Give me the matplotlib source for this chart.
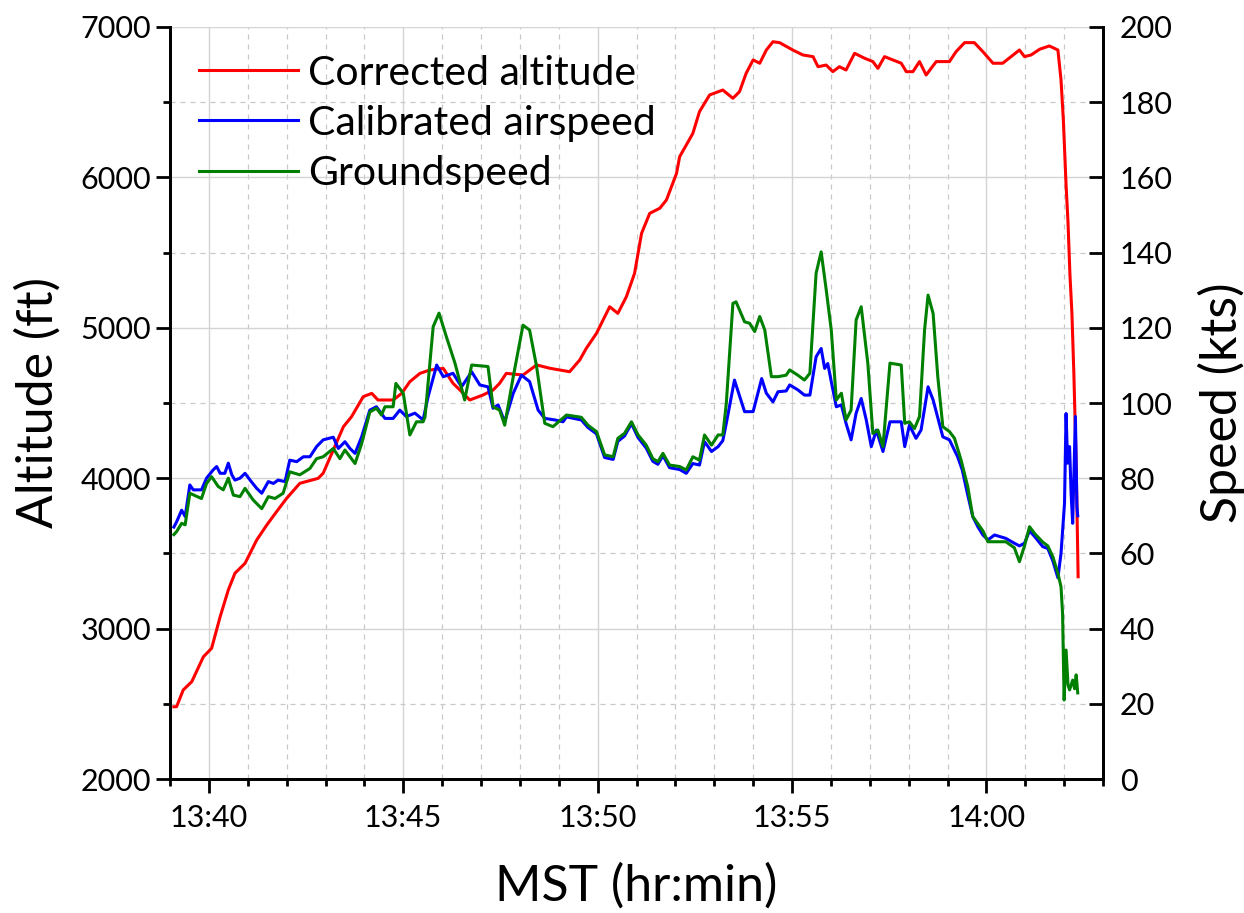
import numpy as np
import matplotlib
matplotlib.use("Agg")
import matplotlib.pyplot as plt
from matplotlib.ticker import MultipleLocator, FuncFormatter

plt.rcParams['font.family'] = ['Lato', 'DejaVu Sans']

# time in minutes after 13:00 MST
alt_t = [39.10, 39.17, 39.34, 39.56, 39.86, 40.07, 40.29, 40.50, 40.67, 40.93,
         41.23, 41.49, 41.74, 42.00, 42.34, 42.81, 42.94, 43.20, 43.46, 43.67,
         43.97, 44.19, 44.35, 44.74, 44.96, 45.17, 45.43, 45.68, 46.03, 46.28,
         46.46, 46.71, 47.05, 47.31, 47.48, 47.65, 48.08, 48.43, 48.77, 49.28,
         49.54, 49.71, 49.97, 50.31, 50.52, 50.74, 50.95, 51.13, 51.34, 51.60,
         51.77, 52.03, 52.11, 52.28, 52.45, 52.62, 52.88, 53.22, 53.48, 53.65,
         53.82, 54.00, 54.17, 54.34, 54.51, 54.68, 55.02, 55.28, 55.54, 55.67,
         55.88, 56.05, 56.22, 56.39, 56.61, 56.87, 57.08, 57.21, 57.38, 57.81,
         57.94, 58.11, 58.28, 58.45, 58.71, 59.05, 59.22, 59.44, 59.69, 59.91,
         60.17, 60.42, 60.85, 60.98, 61.15, 61.37, 61.62, 61.84, 61.92, 61.98,
         62.05, 62.10, 62.15, 62.20, 62.25, 62.30, 62.33, 62.36]
alt_ft = [2480, 2481, 2592, 2647, 2813, 2869, 3079, 3257, 3368, 3434,
          3589, 3689, 3777, 3866, 3966, 3999, 4033, 4187, 4342, 4409,
          4542, 4564, 4520, 4520, 4564, 4642, 4697, 4719, 4730, 4631,
          4586, 4520, 4553, 4586, 4631, 4697, 4686, 4753, 4731, 4708,
          4786, 4864, 4963, 5140, 5096, 5207, 5362, 5628, 5761, 5795,
          5850, 6027, 6138, 6215, 6293, 6437, 6548, 6581, 6526, 6570,
          6692, 6781, 6759, 6847, 6902, 6896, 6847, 6814, 6803, 6736,
          6747, 6703, 6736, 6714, 6825, 6792, 6770, 6725, 6803, 6759,
          6703, 6703, 6770, 6681, 6770, 6770, 6836, 6896, 6896, 6836,
          6759, 6759, 6847, 6803, 6814, 6852, 6874, 6847, 6648, 6382,
          5950, 5700, 5350, 5100, 4700, 4200, 3800, 3345]

cas_t = [39.10, 39.17, 39.30, 39.39, 39.51, 39.60, 39.81, 39.94, 40.11, 40.20,
         40.29, 40.41, 40.50, 40.59, 40.67, 40.80, 40.93, 41.06, 41.23, 41.36,
         41.53, 41.66, 41.78, 41.96, 42.08, 42.26, 42.43, 42.60, 42.77, 42.94,
         43.20, 43.33, 43.50, 43.63, 43.76, 43.93, 44.14, 44.31, 44.53, 44.74,
         44.91, 45.08, 45.30, 45.51, 45.64, 45.86, 46.03, 46.28, 46.50, 46.76,
         46.97, 47.18, 47.31, 47.44, 47.61, 47.83, 48.04, 48.25, 48.47, 48.64,
         48.90, 49.11, 49.20, 49.58, 49.75, 49.97, 50.18, 50.40, 50.52, 50.69,
         50.87, 51.04, 51.25, 51.42, 51.55, 51.68, 51.85, 52.11, 52.28, 52.45,
         52.62, 52.75, 52.93, 53.10, 53.22, 53.31, 53.52, 53.78, 54.00, 54.22,
         54.34, 54.51, 54.64, 54.85, 54.94, 55.15, 55.32, 55.46, 55.62, 55.75,
         55.84, 55.92, 56.01, 56.14, 56.27, 56.39, 56.52, 56.65, 56.78, 56.91,
         57.04, 57.17, 57.34, 57.52, 57.81, 57.90, 58.02, 58.19, 58.32, 58.50,
         58.63, 58.88, 59.05, 59.26, 59.38, 59.51, 59.65, 59.78, 59.91, 60.04,
         60.21, 60.50, 60.72, 60.85, 60.98, 61.11, 61.24, 61.45, 61.58, 61.71,
         61.84, 61.92, 62.01, 62.05, 62.09, 62.14, 62.18, 62.22, 62.29, 62.33,
         62.35]
cas_kts = [67.0, 68.4, 71.5, 69.8, 78.2, 76.9, 76.9, 80.0, 82.2, 83.1,
           81.3, 81.3, 84.0, 80.9, 79.5, 80.0, 81.3, 79.5, 77.3, 76.0,
           79.1, 78.6, 79.5, 79.1, 84.8, 84.4, 85.7, 85.7, 88.4, 90.2,
           90.9, 87.9, 89.7, 87.9, 86.6, 91.0, 98.1, 99.0, 95.9, 95.9,
           98.1, 96.4, 97.3, 95.5, 101.7, 110.1, 107.0, 107.9, 104.3, 108.3,
           104.8, 104.3, 98.6, 99.5, 95.0, 102.6, 107.4, 105.7, 98.1, 95.9,
           95.5, 95.0, 96.3, 95.5, 93.5, 91.8, 85.5, 85.0, 89.8, 91.2,
           94.5, 90.8, 88.0, 84.5, 83.7, 86.0, 82.8, 82.3, 81.3, 83.9,
           83.5, 89.7, 87.1, 88.4, 90.0, 94.6, 106.1, 97.7, 97.7, 106.5,
           102.6, 100.3, 103.0, 103.2, 104.8, 103.5, 102.1, 102.1, 112.3, 114.5,
           109.2, 110.5, 105.7, 99.0, 99.5, 94.6, 90.2, 97.3, 101.2, 95.5,
           88.4, 92.8, 87.1, 95.0, 95.0, 88.4, 94.1, 90.6, 92.8, 104.3,
           100.8, 91.0, 90.2, 85.7, 82.2, 76.0, 69.8, 67.1, 64.9, 63.6,
           64.9, 64.0, 62.7, 62.0, 62.7, 66.0, 64.5, 61.8, 61.3, 58.0,
           53.5, 60.0, 73.3, 97.2, 84.0, 88.4, 75.9, 68.0, 96.4, 72.4,
           70.0]

gs_t = [39.10, 39.17, 39.30, 39.39, 39.51, 39.81, 39.94, 40.07, 40.24, 40.37,
        40.50, 40.63, 40.80, 40.93, 41.14, 41.36, 41.53, 41.70, 41.91, 42.08,
        42.34, 42.60, 42.77, 42.94, 43.20, 43.37, 43.50, 43.76, 43.93, 44.14,
        44.31, 44.44, 44.53, 44.74, 44.81, 45.00, 45.17, 45.34, 45.51, 45.56,
        45.77, 45.92, 46.11, 46.33, 46.58, 46.76, 47.18, 47.31, 47.48, 47.61,
        47.83, 48.08, 48.25, 48.43, 48.64, 48.85, 49.20, 49.58, 49.75, 49.97,
        50.18, 50.40, 50.52, 50.69, 50.87, 51.04, 51.25, 51.42, 51.55, 51.68,
        51.85, 52.11, 52.28, 52.45, 52.62, 52.75, 52.93, 53.10, 53.22, 53.31,
        53.48, 53.56, 53.78, 53.91, 54.04, 54.17, 54.30, 54.47, 54.64, 54.85,
        54.94, 55.15, 55.32, 55.46, 55.62, 55.75, 55.88, 56.01, 56.14, 56.27,
        56.39, 56.52, 56.65, 56.78, 56.95, 57.08, 57.21, 57.34, 57.52, 57.81,
        57.90, 58.02, 58.15, 58.28, 58.41, 58.50, 58.63, 58.75, 58.88, 59.05,
        59.18, 59.35, 59.52, 59.65, 59.91, 60.04, 60.21, 60.50, 60.72, 60.85,
        60.98, 61.11, 61.24, 61.45, 61.58, 61.71, 61.84, 61.92, 61.96, 62.00,
        62.05, 62.10, 62.14, 62.22, 62.27, 62.31, 62.35]
gs_kts = [65.0, 65.8, 68.0, 67.6, 76.0, 74.6, 78.6, 80.4, 77.8, 76.9,
          80.0, 75.5, 75.1, 77.3, 74.2, 71.9, 75.1, 74.6, 76.0, 81.7,
          80.9, 82.6, 85.2, 85.7, 87.9, 85.2, 87.5, 83.9, 89.2, 97.6,
          98.6, 96.8, 99.0, 99.0, 105.2, 102.6, 91.5, 95.0, 95.0, 96.3,
          120.3, 123.9, 117.6, 110.6, 100.8, 110.1, 109.7, 99.0, 98.1, 94.1,
          107.0, 120.7, 119.4, 109.7, 94.6, 93.7, 96.8, 96.2, 94.1, 92.4,
          86.2, 85.7, 90.6, 91.9, 95.0, 91.5, 88.8, 85.2, 84.4, 86.6,
          83.5, 83.1, 82.2, 85.7, 84.8, 91.5, 88.8, 91.5, 91.5, 99.9,
          126.5, 126.9, 121.6, 121.2, 119.0, 123.0, 119.4, 107.0, 107.0, 107.4,
          108.8, 107.4, 106.1, 107.9, 134.5, 140.2, 130.1, 119.4, 100.8, 102.6,
          95.5, 98.1, 122.1, 125.6, 110.6, 91.9, 92.8, 88.4, 110.6, 110.1,
          94.6, 95.0, 93.2, 96.4, 119.4, 128.7, 123.8, 107.0, 93.7, 92.4,
          90.6, 84.8, 77.8, 69.8, 66.0, 63.1, 63.1, 63.1, 61.5, 57.8,
          62.0, 67.1, 65.3, 63.0, 62.0, 59.1, 54.7, 51.1, 44.0, 21.0,
          34.3, 25.0, 23.7, 26.3, 24.0, 27.7, 22.9]


def hhmm(v, pos):
    m = int(round(v))
    return "%d:%02d" % (13 + m // 60, m % 60)


fig = plt.figure(figsize=(12.44, 9.13), dpi=100)
ax = fig.add_axes([170 / 1244, 1 - 779 / 913, (1103 - 170) / 1244, (779 - 27) / 913])
ax2 = ax.twinx()

l1, = ax.plot(alt_t, alt_ft, color='#ff0000', lw=2.2, label='Corrected altitude')
l2, = ax2.plot(cas_t, cas_kts, color='#0000ff', lw=2.2, label='Calibrated airspeed')
l3, = ax2.plot(gs_t, gs_kts, color='#008000', lw=2.2, label='Groundspeed')

ax.set_xlim(39, 63)
ax.set_ylim(2000, 7000)
ax2.set_ylim(0, 200)

ax.xaxis.set_major_locator(MultipleLocator(5))
ax.xaxis.set_minor_locator(MultipleLocator(1))
ax.xaxis.set_major_formatter(FuncFormatter(hhmm))
ax.yaxis.set_major_locator(MultipleLocator(1000))
ax.yaxis.set_minor_locator(MultipleLocator(500))
ax2.yaxis.set_major_locator(MultipleLocator(20))

ax.grid(which='major', color='#d4d4d4', lw=1.0, ls='-')
ax.grid(which='minor', color='#c8c8c8', lw=0.9, ls=(0, (4, 4)))

for a in (ax, ax2):
    a.spines['top'].set_visible(False)
    for s in ('left', 'right', 'bottom'):
        a.spines[s].set_linewidth(2.0)

ax.tick_params(axis='both', which='major', labelsize=22, length=10, width=2, direction='out')
ax.tick_params(axis='both', which='minor', length=5, width=2, direction='out')
ax.tick_params(axis='x', pad=8)
ax2.tick_params(axis='y', which='major', labelsize=22, length=10, width=2, direction='in', pad=12)

ax.set_xlabel('MST (hr:min)', fontsize=36, labelpad=22)
ax.set_ylabel('Altitude (ft)', fontsize=36, labelpad=14)
ax2.set_ylabel('Speed (kts)', fontsize=36, labelpad=18)

ax2.legend(handles=[l1, l2, l3], loc='upper left', bbox_to_anchor=(0.014, 0.985),
           frameon=False, fontsize=29.5, handlelength=2.4, handletextpad=0.25,
           labelspacing=0.32, borderaxespad=0)

fig.savefig('out.png', dpi=100)
